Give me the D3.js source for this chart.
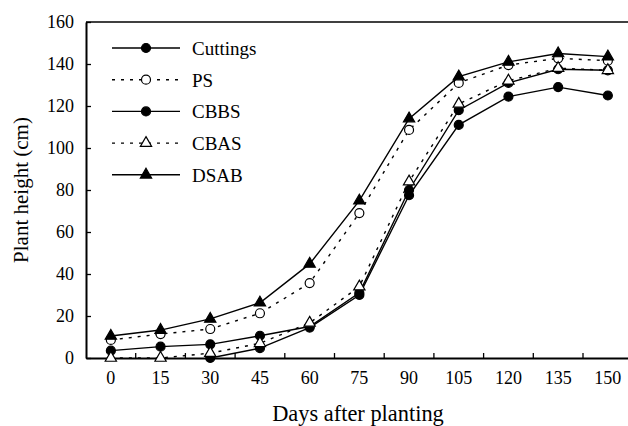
<!DOCTYPE html>
<html>
<head>
<meta charset="utf-8">
<script src="https://cdn.jsdelivr.net/npm/d3@7"></script>
<style>
  body { margin: 0; background: #fff; }
  svg { display: block; font-family: "Liberation Serif", "Times New Roman", serif; }
</style>
</head>
<body>
<svg id="chart" width="628" height="426"></svg>
<script>
'use strict';

// data
const days = [0, 15, 30, 45, 60, 75, 90, 105, 120, 135, 150];
const cuttings = [3.5, 5.4, 6.5, 10.6, 15, 31, 80, 118, 131, 137.5, 137];
const ps = [8.6, 11.4, 13.8, 21.3, 35.7, 69, 108.6, 131, 139.5, 142.7, 141.6];
const cbbs = [null, null, 0, 4.7, 14.5, 30, 77.5, 111, 124.5, 129, 125];
const cbas = [0, 0, 2.3, 7, 16.7, 34, 84, 121, 132, 138, 137];
const dsab = [10.5, 13.3, 18.6, 26.3, 44.8, 74.9, 114, 134, 141, 145, 143.5];
const yTicks = [0, 20, 40, 60, 80, 100, 120, 140, 160];

const series = [
    { name: 'Cuttings', values: cuttings, dash: null, marker: 'circle', fill: '#000' },
    { name: 'PS', values: ps, dash: '3,6', marker: 'circle', fill: '#fff' },
    { name: 'CBBS', values: cbbs, dash: null, marker: 'circle', fill: '#000' },
    { name: 'CBAS', values: cbas, dash: '3,6', marker: 'triangle', fill: '#fff' },
    { name: 'DSAB', values: dsab, dash: null, marker: 'triangle', fill: '#000' }
];

const plotLeft = 86, plotTop = 22, plotBottom = 358;
const step = 49.7;

const svg = d3.select('#chart');

// scales
const x = d3.scaleBand()
    .domain(days)
    .range([plotLeft, plotLeft + step * days.length])
    .padding(0);
const cx = d => x(d) + x.bandwidth() / 2;

const y = d3.scaleLinear()
    .domain([0, 160])
    .range([plotBottom, plotTop]);

// top frame line
svg.append('line')
    .attr('x1', plotLeft).attr('x2', 628)
    .attr('y1', plotTop).attr('y2', plotTop)
    .attr('stroke', '#000').attr('stroke-width', 1.6);

// y axis
const yAxis = svg.append('g')
    .attr('transform', `translate(${plotLeft},0)`)
    .call(d3.axisLeft(y).tickValues(yTicks).tickSizeInner(-5).tickSizeOuter(0).tickPadding(12));
yAxis.select('.domain').attr('stroke-width', 2);
yAxis.selectAll('.tick line').attr('stroke-width', 1.3);
yAxis.selectAll('text').attr('font-size', 18).attr('font-family', 'Liberation Serif').attr('fill', '#000');

// x axis (labels at band centres, ticks at band boundaries)
const xAxis = svg.append('g')
    .attr('transform', `translate(0,${plotBottom})`)
    .call(d3.axisBottom(x).tickSize(0).tickPadding(13));
xAxis.select('.domain').attr('stroke-width', 2);
xAxis.selectAll('text').attr('font-size', 18).attr('font-family', 'Liberation Serif').attr('fill', '#000');

svg.append('g').selectAll('line')
    .data(days.slice(1))
    .enter()
    .append('line')
    .attr('x1', d => x(d)).attr('x2', d => x(d))
    .attr('y1', plotBottom).attr('y2', plotBottom - 5)
    .attr('stroke', '#000').attr('stroke-width', 1.3);

// axis titles
svg.append('text')
    .attr('x', 358).attr('y', 421)
    .attr('text-anchor', 'middle')
    .attr('font-size', 22.4)
    .text('Days after planting');

svg.append('text')
    .attr('transform', 'translate(28,190) rotate(-90)')
    .attr('text-anchor', 'middle')
    .attr('font-size', 21)
    .text('Plant height (cm)');

// markers
const triangle = d3.symbol().type(d3.symbolTriangle).size(55);

function drawMarker(g, s, px, py) {
    if (s.marker === 'circle') {
        g.append('circle')
            .attr('cx', px).attr('cy', py)
            .attr('r', s.fill === '#000' ? 4.5 : 4.5)
            .attr('fill', s.fill)
            .attr('stroke', '#000').attr('stroke-width', 1.2);
    } else {
        g.append('path')
            .attr('d', triangle())
            .attr('transform', `translate(${px},${py})`)
            .attr('fill', s.fill)
            .attr('stroke', '#000').attr('stroke-width', 1.2);
    }
}

const line = d3.line()
    .defined(d => d[1] !== null)
    .x(d => cx(d[0]))
    .y(d => y(d[1]));

series.forEach(s => {
    const pts = days.map((d, i) => [d, s.values[i]]);
    const g = svg.append('g');
    g.append('path')
        .datum(pts)
        .attr('d', line)
        .attr('fill', 'none')
        .attr('stroke', '#000')
        .attr('stroke-width', 1.4)
        .attr('stroke-dasharray', s.dash);
    pts.filter(p => p[1] !== null).forEach(p => drawMarker(g, s, cx(p[0]), y(p[1])));
});

// legend
const legend = svg.append('g');
series.forEach((s, i) => {
    const ly = 48 + i * 31.7;
    const g = legend.append('g');
    g.append('line')
        .attr('x1', 112).attr('x2', 180)
        .attr('y1', ly).attr('y2', ly)
        .attr('stroke', '#000').attr('stroke-width', 1.4)
        .attr('stroke-dasharray', s.dash);
    drawMarker(g, s, 146, ly);
    g.append('text')
        .attr('x', 192).attr('y', ly + 7)
        .attr('font-size', 19)
        .text(s.name);
});
</script>
</body>
</html>
